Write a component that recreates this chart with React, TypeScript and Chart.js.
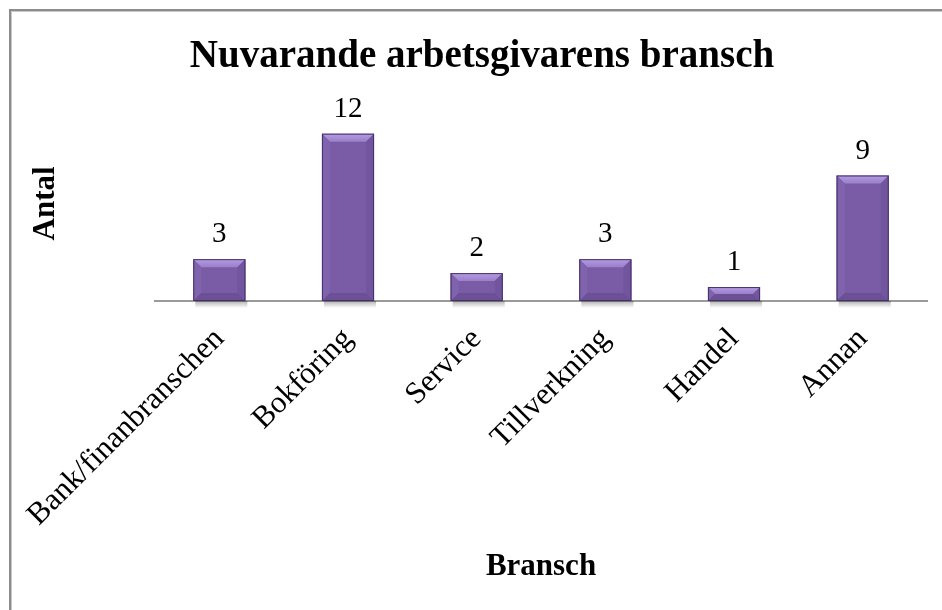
import React, { useEffect, useRef } from "react";
import { Chart, registerables } from "chart.js";

Chart.register(...registerables);

const categories = ["Bank/finanbranschen", "Bokföring", "Service", "Tillverkning", "Handel", "Annan"];
const values = [3, 12, 2, 3, 1, 9];
const chartTitle = "Nuvarande arbetsgivarens bransch";
const xTitle = "Bransch";
const yTitle = "Antal";
const yMax = 14;

const FONT = '"Liberation Serif", "Times New Roman", serif';

const framePlugin = {
  id: "frame",
  beforeDraw(chart: any) {
    const ctx = chart.ctx;
    ctx.save();
    ctx.fillStyle = "#ffffff";
    ctx.fillRect(0, 0, chart.width, chart.height);
    ctx.fillStyle = "#8c8c8c";
    ctx.fillRect(9, 9, chart.width - 9, 2);
    ctx.fillRect(9, 9, 2, chart.height - 9);
    ctx.fillStyle = "#c8c8c8";
    ctx.fillRect(11, 11, chart.width - 11, 1);
    ctx.fillRect(11, 11, 1, chart.height - 11);
    ctx.restore();
  },
};

const bevelPlugin = {
  id: "bevel",
  afterDatasetsDraw(chart: any) {
    const ctx = chart.ctx;
    const meta = chart.getDatasetMeta(0);
    meta.data.forEach((bar: any, i: number) => {
      const { x, y, base, width } = bar.getProps(["x", "y", "base", "width"], true);
      const l = x - width / 2;
      const r = x + width / 2;
      const t = Math.min(y, base);
      const b = Math.max(y, base);
      const h = b - t;
      const bv = Math.min(8, h / 2);
      ctx.save();
      // shadow under bar
      const sg = ctx.createLinearGradient(0, b, 0, b + 7);
      sg.addColorStop(0, "rgba(0,0,0,0.30)");
      sg.addColorStop(1, "rgba(0,0,0,0)");
      ctx.fillStyle = sg;
      ctx.fillRect(l + 2, b, width, 7);
      // top bevel
      const tg = ctx.createLinearGradient(0, t, 0, t + bv);
      tg.addColorStop(0, "#b49ce2");
      tg.addColorStop(1, "#9a7fca");
      ctx.fillStyle = tg;
      ctx.beginPath();
      ctx.moveTo(l, t);
      ctx.lineTo(r, t);
      ctx.lineTo(r - bv, t + bv);
      ctx.lineTo(l + bv, t + bv);
      ctx.closePath();
      ctx.fill();
      // left bevel
      ctx.fillStyle = "#8063ad";
      ctx.beginPath();
      ctx.moveTo(l, t);
      ctx.lineTo(l + bv, t + bv);
      ctx.lineTo(l + bv, b - bv);
      ctx.lineTo(l, b);
      ctx.closePath();
      ctx.fill();
      // right bevel
      ctx.fillStyle = "#71559e";
      ctx.beginPath();
      ctx.moveTo(r, t);
      ctx.lineTo(r, b);
      ctx.lineTo(r - bv, b - bv);
      ctx.lineTo(r - bv, t + bv);
      ctx.closePath();
      ctx.fill();
      // bottom bevel
      ctx.fillStyle = "#6b5096";
      ctx.beginPath();
      ctx.moveTo(l, b);
      ctx.lineTo(l + bv, b - bv);
      ctx.lineTo(r - bv, b - bv);
      ctx.lineTo(r, b);
      ctx.closePath();
      ctx.fill();
      // outline
      ctx.strokeStyle = "#45316a";
      ctx.lineWidth = 1;
      ctx.strokeRect(l + 0.5, t + 0.5, width - 1, h - 1);
      // value label
      ctx.fillStyle = "#000000";
      ctx.font = `29px ${FONT}`;
      ctx.textAlign = "center";
      ctx.textBaseline = "alphabetic";
      ctx.fillText(String(values[i]), x, t - 17);
      ctx.restore();
    });
  },
};

export default function App() {
  const canvasRef = useRef<HTMLCanvasElement | null>(null);

  useEffect(() => {
    const canvas = canvasRef.current;
    if (!canvas) return;
    const chart = new Chart(canvas, {
      type: "bar",
      data: {
        labels: categories,
        datasets: [
          {
            data: values,
            backgroundColor: "#7a5ca6",
            borderWidth: 0,
            categoryPercentage: 1,
            barPercentage: 0.405,
          },
        ],
      },
      options: {
        responsive: false,
        animation: false,
        devicePixelRatio: 1,
        layout: { padding: { left: 37, right: 15, top: 0, bottom: 0 } },
        plugins: {
          legend: { display: false },
          tooltip: { enabled: false },
          title: {
            display: true,
            text: chartTitle,
            color: "#000000",
            font: { family: FONT, size: 39, weight: "bold" },
            padding: { top: 34, bottom: 25 },
          },
        },
        scales: {
          x: {
            grid: { display: false, drawTicks: false },
            border: { display: true, color: "#9a9a9a", width: 2 },
            ticks: {
              color: "#000000",
              font: { family: FONT, size: 31 },
              maxRotation: 45,
              minRotation: 45,
              padding: 20,
            },
            title: {
              display: true,
              text: xTitle,
              color: "#000000",
              font: { family: FONT, size: 31, weight: "bold" },
              padding: { top: 0, bottom: 24 },
            },
            afterFit(scale: any) {
              scale.height = 309;
              scale.paddingLeft = 0;
              scale.paddingRight = 0;
            },
          },
          y: {
            min: 0,
            max: yMax,
            grid: { display: false, drawTicks: false },
            border: { display: false },
            ticks: { display: false },
            title: {
              display: true,
              text: yTitle,
              color: "#000000",
              font: { family: FONT, size: 31, weight: "bold" },
              padding: { top: -10, bottom: 0 },
            },
            afterFit(scale: any) {
              scale.width = 118;
              scale.paddingTop = 0;
              scale.paddingBottom = 0;
            },
          },
        },
      },
      plugins: [framePlugin, bevelPlugin],
    });
    return () => chart.destroy();
  }, []);

  return (
    <div style={{ position: "fixed", left: 0, top: 0, width: 942, height: 610, background: "#fff" }}>
      <canvas ref={canvasRef} width={942} height={610} style={{ display: "block", width: 942, height: 610 }} />
    </div>
  );
}
